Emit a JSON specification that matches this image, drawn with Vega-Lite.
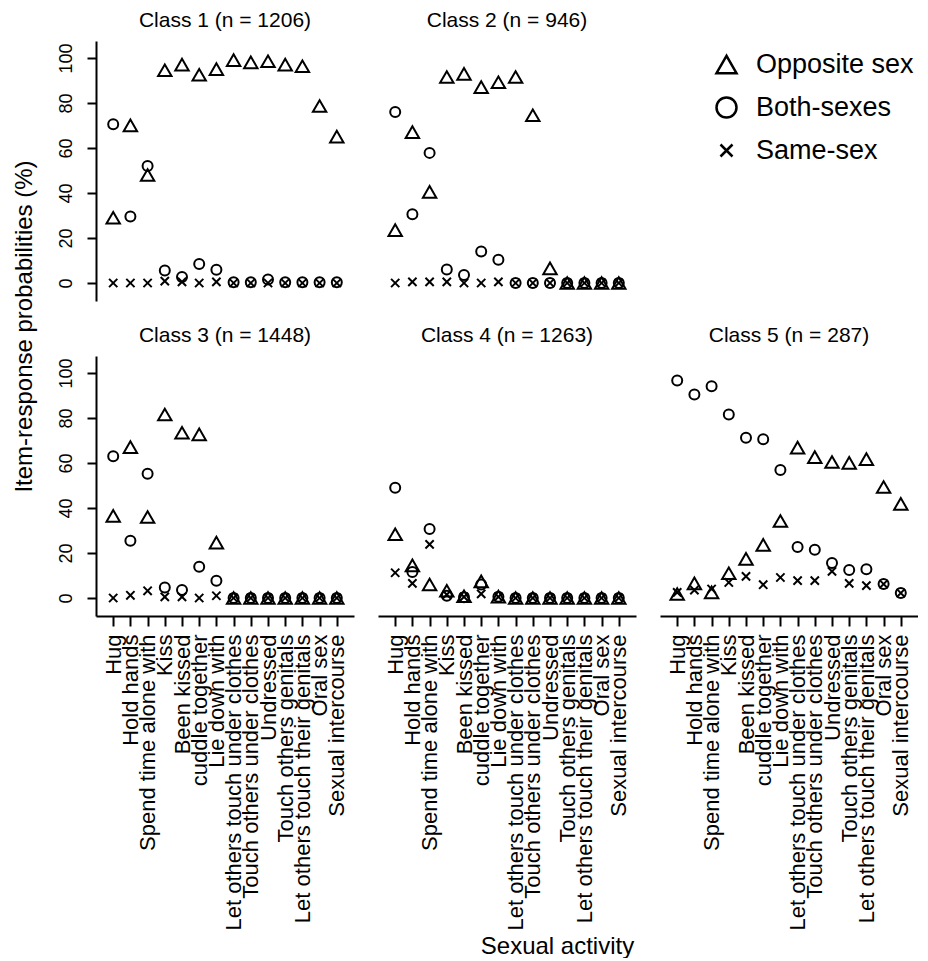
{
"$schema": "https://vega.github.io/schema/vega-lite/v6.json",
"padding": {"left": 12, "top": 10, "right": 0, "bottom": 0},
"autosize": {"type": "pad"},
"bounds": "flush",
"columns": 3,
"spacing": {"row": 55, "column": 24},
"data": {"values": [
{"c":1,"i":"Hug","s":"Opposite sex","p":29},{"c":1,"i":"Hold hands","s":"Opposite sex","p":70},{"c":1,"i":"Spend time alone with","s":"Opposite sex","p":48},{"c":1,"i":"Kiss","s":"Opposite sex","p":94.5},{"c":1,"i":"Been kissed","s":"Opposite sex","p":97},{"c":1,"i":"cuddle together","s":"Opposite sex","p":92.5},{"c":1,"i":"Lie down with","s":"Opposite sex","p":95},{"c":1,"i":"Let others touch under clothes","s":"Opposite sex","p":99},{"c":1,"i":"Touch others under clothes","s":"Opposite sex","p":98},{"c":1,"i":"Undressed","s":"Opposite sex","p":98.5},{"c":1,"i":"Touch others genitals","s":"Opposite sex","p":97},{"c":1,"i":"Let others touch their genitals","s":"Opposite sex","p":96.3},{"c":1,"i":"Oral sex","s":"Opposite sex","p":78.6},{"c":1,"i":"Sexual intercourse","s":"Opposite sex","p":65},
{"c":1,"i":"Hug","s":"Both-sexes","p":70.5},{"c":1,"i":"Hold hands","s":"Both-sexes","p":29.5},{"c":1,"i":"Spend time alone with","s":"Both-sexes","p":52},{"c":1,"i":"Kiss","s":"Both-sexes","p":5.5},{"c":1,"i":"Been kissed","s":"Both-sexes","p":2.7},{"c":1,"i":"cuddle together","s":"Both-sexes","p":8.4},{"c":1,"i":"Lie down with","s":"Both-sexes","p":5.9},{"c":1,"i":"Let others touch under clothes","s":"Both-sexes","p":0.3},{"c":1,"i":"Touch others under clothes","s":"Both-sexes","p":0.3},{"c":1,"i":"Undressed","s":"Both-sexes","p":1.5},{"c":1,"i":"Touch others genitals","s":"Both-sexes","p":0.3},{"c":1,"i":"Let others touch their genitals","s":"Both-sexes","p":0.3},{"c":1,"i":"Oral sex","s":"Both-sexes","p":0.3},{"c":1,"i":"Sexual intercourse","s":"Both-sexes","p":0.3},
{"c":1,"i":"Hug","s":"Same-sex","p":0},{"c":1,"i":"Hold hands","s":"Same-sex","p":0},{"c":1,"i":"Spend time alone with","s":"Same-sex","p":0},{"c":1,"i":"Kiss","s":"Same-sex","p":0.8},{"c":1,"i":"Been kissed","s":"Same-sex","p":0.5},{"c":1,"i":"cuddle together","s":"Same-sex","p":0},{"c":1,"i":"Lie down with","s":"Same-sex","p":0.5},{"c":1,"i":"Let others touch under clothes","s":"Same-sex","p":0},{"c":1,"i":"Touch others under clothes","s":"Same-sex","p":0},{"c":1,"i":"Undressed","s":"Same-sex","p":0},{"c":1,"i":"Touch others genitals","s":"Same-sex","p":0},{"c":1,"i":"Let others touch their genitals","s":"Same-sex","p":0},{"c":1,"i":"Oral sex","s":"Same-sex","p":0},{"c":1,"i":"Sexual intercourse","s":"Same-sex","p":0},
{"c":2,"i":"Hug","s":"Opposite sex","p":23.5},{"c":2,"i":"Hold hands","s":"Opposite sex","p":67},{"c":2,"i":"Spend time alone with","s":"Opposite sex","p":40.5},{"c":2,"i":"Kiss","s":"Opposite sex","p":91.5},{"c":2,"i":"Been kissed","s":"Opposite sex","p":92.9},{"c":2,"i":"cuddle together","s":"Opposite sex","p":87},{"c":2,"i":"Lie down with","s":"Opposite sex","p":89.2},{"c":2,"i":"Let others touch under clothes","s":"Opposite sex","p":91.5},{"c":2,"i":"Touch others under clothes","s":"Opposite sex","p":74.5},{"c":2,"i":"Undressed","s":"Opposite sex","p":6.5},{"c":2,"i":"Touch others genitals","s":"Opposite sex","p":0},{"c":2,"i":"Let others touch their genitals","s":"Opposite sex","p":0},{"c":2,"i":"Oral sex","s":"Opposite sex","p":0},{"c":2,"i":"Sexual intercourse","s":"Opposite sex","p":0},
{"c":2,"i":"Hug","s":"Both-sexes","p":76},{"c":2,"i":"Hold hands","s":"Both-sexes","p":30.5},{"c":2,"i":"Spend time alone with","s":"Both-sexes","p":57.8},{"c":2,"i":"Kiss","s":"Both-sexes","p":6},{"c":2,"i":"Been kissed","s":"Both-sexes","p":3.5},{"c":2,"i":"cuddle together","s":"Both-sexes","p":14},{"c":2,"i":"Lie down with","s":"Both-sexes","p":10.3},{"c":2,"i":"Let others touch under clothes","s":"Both-sexes","p":0},{"c":2,"i":"Touch others under clothes","s":"Both-sexes","p":0},{"c":2,"i":"Undressed","s":"Both-sexes","p":0},{"c":2,"i":"Touch others genitals","s":"Both-sexes","p":0},{"c":2,"i":"Let others touch their genitals","s":"Both-sexes","p":0},{"c":2,"i":"Oral sex","s":"Both-sexes","p":0},{"c":2,"i":"Sexual intercourse","s":"Both-sexes","p":0},
{"c":2,"i":"Hug","s":"Same-sex","p":0},{"c":2,"i":"Hold hands","s":"Same-sex","p":0.5},{"c":2,"i":"Spend time alone with","s":"Same-sex","p":0.5},{"c":2,"i":"Kiss","s":"Same-sex","p":0.5},{"c":2,"i":"Been kissed","s":"Same-sex","p":0},{"c":2,"i":"cuddle together","s":"Same-sex","p":0},{"c":2,"i":"Lie down with","s":"Same-sex","p":0.5},{"c":2,"i":"Let others touch under clothes","s":"Same-sex","p":0},{"c":2,"i":"Touch others under clothes","s":"Same-sex","p":0},{"c":2,"i":"Undressed","s":"Same-sex","p":0},{"c":2,"i":"Touch others genitals","s":"Same-sex","p":0},{"c":2,"i":"Let others touch their genitals","s":"Same-sex","p":0},{"c":2,"i":"Oral sex","s":"Same-sex","p":0},{"c":2,"i":"Sexual intercourse","s":"Same-sex","p":0},
{"c":3,"i":"Hug","s":"Opposite sex","p":36.5},{"c":3,"i":"Hold hands","s":"Opposite sex","p":67},{"c":3,"i":"Spend time alone with","s":"Opposite sex","p":36},{"c":3,"i":"Kiss","s":"Opposite sex","p":81.5},{"c":3,"i":"Been kissed","s":"Opposite sex","p":73.4},{"c":3,"i":"cuddle together","s":"Opposite sex","p":72.7},{"c":3,"i":"Lie down with","s":"Opposite sex","p":24.6},{"c":3,"i":"Let others touch under clothes","s":"Opposite sex","p":0},{"c":3,"i":"Touch others under clothes","s":"Opposite sex","p":0},{"c":3,"i":"Undressed","s":"Opposite sex","p":0},{"c":3,"i":"Touch others genitals","s":"Opposite sex","p":0},{"c":3,"i":"Let others touch their genitals","s":"Opposite sex","p":0},{"c":3,"i":"Oral sex","s":"Opposite sex","p":0},{"c":3,"i":"Sexual intercourse","s":"Opposite sex","p":0},
{"c":3,"i":"Hug","s":"Both-sexes","p":63},{"c":3,"i":"Hold hands","s":"Both-sexes","p":25.4},{"c":3,"i":"Spend time alone with","s":"Both-sexes","p":55.2},{"c":3,"i":"Kiss","s":"Both-sexes","p":4.7},{"c":3,"i":"Been kissed","s":"Both-sexes","p":3.5},{"c":3,"i":"cuddle together","s":"Both-sexes","p":13.9},{"c":3,"i":"Lie down with","s":"Both-sexes","p":7.7},{"c":3,"i":"Let others touch under clothes","s":"Both-sexes","p":0},{"c":3,"i":"Touch others under clothes","s":"Both-sexes","p":0},{"c":3,"i":"Undressed","s":"Both-sexes","p":0},{"c":3,"i":"Touch others genitals","s":"Both-sexes","p":0},{"c":3,"i":"Let others touch their genitals","s":"Both-sexes","p":0},{"c":3,"i":"Oral sex","s":"Both-sexes","p":0},{"c":3,"i":"Sexual intercourse","s":"Both-sexes","p":0},
{"c":3,"i":"Hug","s":"Same-sex","p":0},{"c":3,"i":"Hold hands","s":"Same-sex","p":1.2},{"c":3,"i":"Spend time alone with","s":"Same-sex","p":3.2},{"c":3,"i":"Kiss","s":"Same-sex","p":0.5},{"c":3,"i":"Been kissed","s":"Same-sex","p":0.5},{"c":3,"i":"cuddle together","s":"Same-sex","p":0},{"c":3,"i":"Lie down with","s":"Same-sex","p":1},{"c":3,"i":"Let others touch under clothes","s":"Same-sex","p":0},{"c":3,"i":"Touch others under clothes","s":"Same-sex","p":0},{"c":3,"i":"Undressed","s":"Same-sex","p":0},{"c":3,"i":"Touch others genitals","s":"Same-sex","p":0},{"c":3,"i":"Let others touch their genitals","s":"Same-sex","p":0},{"c":3,"i":"Oral sex","s":"Same-sex","p":0},{"c":3,"i":"Sexual intercourse","s":"Same-sex","p":0},
{"c":4,"i":"Hug","s":"Opposite sex","p":28.3},{"c":4,"i":"Hold hands","s":"Opposite sex","p":14.5},{"c":4,"i":"Spend time alone with","s":"Opposite sex","p":6},{"c":4,"i":"Kiss","s":"Opposite sex","p":3.2},{"c":4,"i":"Been kissed","s":"Opposite sex","p":0.8},{"c":4,"i":"cuddle together","s":"Opposite sex","p":7.4},{"c":4,"i":"Lie down with","s":"Opposite sex","p":0.6},{"c":4,"i":"Let others touch under clothes","s":"Opposite sex","p":0},{"c":4,"i":"Touch others under clothes","s":"Opposite sex","p":0},{"c":4,"i":"Undressed","s":"Opposite sex","p":0},{"c":4,"i":"Touch others genitals","s":"Opposite sex","p":0},{"c":4,"i":"Let others touch their genitals","s":"Opposite sex","p":0},{"c":4,"i":"Oral sex","s":"Opposite sex","p":0},{"c":4,"i":"Sexual intercourse","s":"Opposite sex","p":0},
{"c":4,"i":"Hug","s":"Both-sexes","p":49},{"c":4,"i":"Hold hands","s":"Both-sexes","p":11.5},{"c":4,"i":"Spend time alone with","s":"Both-sexes","p":30.6},{"c":4,"i":"Kiss","s":"Both-sexes","p":1},{"c":4,"i":"Been kissed","s":"Both-sexes","p":0.3},{"c":4,"i":"cuddle together","s":"Both-sexes","p":6},{"c":4,"i":"Lie down with","s":"Both-sexes","p":0.5},{"c":4,"i":"Let others touch under clothes","s":"Both-sexes","p":0},{"c":4,"i":"Touch others under clothes","s":"Both-sexes","p":0},{"c":4,"i":"Undressed","s":"Both-sexes","p":0},{"c":4,"i":"Touch others genitals","s":"Both-sexes","p":0},{"c":4,"i":"Let others touch their genitals","s":"Both-sexes","p":0},{"c":4,"i":"Oral sex","s":"Both-sexes","p":0},{"c":4,"i":"Sexual intercourse","s":"Both-sexes","p":0},
{"c":4,"i":"Hug","s":"Same-sex","p":11.2},{"c":4,"i":"Hold hands","s":"Same-sex","p":6.5},{"c":4,"i":"Spend time alone with","s":"Same-sex","p":23.8},{"c":4,"i":"Kiss","s":"Same-sex","p":1.5},{"c":4,"i":"Been kissed","s":"Same-sex","p":0.5},{"c":4,"i":"cuddle together","s":"Same-sex","p":1.8},{"c":4,"i":"Lie down with","s":"Same-sex","p":0.5},{"c":4,"i":"Let others touch under clothes","s":"Same-sex","p":0},{"c":4,"i":"Touch others under clothes","s":"Same-sex","p":0},{"c":4,"i":"Undressed","s":"Same-sex","p":0},{"c":4,"i":"Touch others genitals","s":"Same-sex","p":0},{"c":4,"i":"Let others touch their genitals","s":"Same-sex","p":0},{"c":4,"i":"Oral sex","s":"Same-sex","p":0},{"c":4,"i":"Sexual intercourse","s":"Same-sex","p":0},
{"c":5,"i":"Hug","s":"Opposite sex","p":1.8},{"c":5,"i":"Hold hands","s":"Opposite sex","p":6.5},{"c":5,"i":"Spend time alone with","s":"Opposite sex","p":2.5},{"c":5,"i":"Kiss","s":"Opposite sex","p":11},{"c":5,"i":"Been kissed","s":"Opposite sex","p":17.4},{"c":5,"i":"cuddle together","s":"Opposite sex","p":23.6},{"c":5,"i":"Lie down with","s":"Opposite sex","p":34.2},{"c":5,"i":"Let others touch under clothes","s":"Opposite sex","p":66.8},{"c":5,"i":"Touch others under clothes","s":"Opposite sex","p":62.6},{"c":5,"i":"Undressed","s":"Opposite sex","p":60.4},{"c":5,"i":"Touch others genitals","s":"Opposite sex","p":60},{"c":5,"i":"Let others touch their genitals","s":"Opposite sex","p":61.7},{"c":5,"i":"Oral sex","s":"Opposite sex","p":49.3},{"c":5,"i":"Sexual intercourse","s":"Opposite sex","p":41.8},
{"c":5,"i":"Hug","s":"Both-sexes","p":96.6},{"c":5,"i":"Hold hands","s":"Both-sexes","p":90.4},{"c":5,"i":"Spend time alone with","s":"Both-sexes","p":94.1},{"c":5,"i":"Kiss","s":"Both-sexes","p":81.5},{"c":5,"i":"Been kissed","s":"Both-sexes","p":71.2},{"c":5,"i":"cuddle together","s":"Both-sexes","p":70.5},{"c":5,"i":"Lie down with","s":"Both-sexes","p":56.9},{"c":5,"i":"Let others touch under clothes","s":"Both-sexes","p":22.7},{"c":5,"i":"Touch others under clothes","s":"Both-sexes","p":21.4},{"c":5,"i":"Undressed","s":"Both-sexes","p":15.5},{"c":5,"i":"Touch others genitals","s":"Both-sexes","p":12.4},{"c":5,"i":"Let others touch their genitals","s":"Both-sexes","p":12.8},{"c":5,"i":"Oral sex","s":"Both-sexes","p":6.2},{"c":5,"i":"Sexual intercourse","s":"Both-sexes","p":2.2},
{"c":5,"i":"Hug","s":"Same-sex","p":2.5},{"c":5,"i":"Hold hands","s":"Same-sex","p":3.5},{"c":5,"i":"Spend time alone with","s":"Same-sex","p":4},{"c":5,"i":"Kiss","s":"Same-sex","p":6.9},{"c":5,"i":"Been kissed","s":"Same-sex","p":9.6},{"c":5,"i":"cuddle together","s":"Same-sex","p":5.9},{"c":5,"i":"Lie down with","s":"Same-sex","p":9.1},{"c":5,"i":"Let others touch under clothes","s":"Same-sex","p":7.7},{"c":5,"i":"Touch others under clothes","s":"Same-sex","p":7.7},{"c":5,"i":"Undressed","s":"Same-sex","p":11.8},{"c":5,"i":"Touch others genitals","s":"Same-sex","p":6.5},{"c":5,"i":"Let others touch their genitals","s":"Same-sex","p":5.5},{"c":5,"i":"Oral sex","s":"Same-sex","p":6.2},{"c":5,"i":"Sexual intercourse","s":"Same-sex","p":2.2}
]},
"concat": [
{"width": 258, "height": 260, "title": "Class 1 (n = 1206)", "transform": [{"filter": "datum.c == 1"}],
 "mark": {"type": "point", "filled": false, "strokeWidth": 2, "opacity": 1, "color": "black"},
 "encoding": {
  "x": {"field": "i", "type": "nominal", "scale": {"type": "point", "padding": 1, "domain": ["Hug","Hold hands","Spend time alone with","Kiss","Been kissed","cuddle together","Lie down with","Let others touch under clothes","Touch others under clothes","Undressed","Touch others genitals","Let others touch their genitals","Oral sex","Sexual intercourse"]}, "axis": null},
  "y": {"field": "p", "type": "quantitative", "scale": {"domain": [-8, 107.5], "nice": false, "zero": false},
        "axis": {"values": [0,20,40,60,80,100], "title": "Item-response probabilities (%)", "titleX": -65, "titleY": 285, "titleAngle": 270, "titleAlign": "center", "titleBaseline": "alphabetic", "titleFontSize": 24, "labelAngle": 270, "labelAlign": "center", "labelBaseline": "alphabetic", "labelPadding": 16, "labelFontSize": 18, "tickSize": 9}},
  "shape": {"field": "s", "type": "nominal", "title": null, "scale": {"domain": ["Opposite sex","Both-sexes","Same-sex"], "range": ["triangle-up","circle","M-0.6,-0.6L0.6,0.6M-0.6,0.6L0.6,-0.6"]}},
  "size": {"condition": [{"test": "datum.s == 'Opposite sex'", "value": 180}, {"test": "datum.s == 'Same-sex'", "value": 190}], "value": 100}
 }},
{"width": 258, "height": 260, "title": "Class 2 (n = 946)", "transform": [{"filter": "datum.c == 2"}],
 "mark": {"type": "point", "filled": false, "strokeWidth": 2, "opacity": 1, "color": "black"},
 "encoding": {
  "x": {"field": "i", "type": "nominal", "scale": {"type": "point", "padding": 1, "domain": ["Hug","Hold hands","Spend time alone with","Kiss","Been kissed","cuddle together","Lie down with","Let others touch under clothes","Touch others under clothes","Undressed","Touch others genitals","Let others touch their genitals","Oral sex","Sexual intercourse"]}, "axis": null},
  "y": {"field": "p", "type": "quantitative", "scale": {"domain": [-8, 107.5], "nice": false, "zero": false}, "axis": null},
  "shape": {"field": "s", "type": "nominal", "title": null, "scale": {"domain": ["Opposite sex","Both-sexes","Same-sex"], "range": ["triangle-up","circle","M-0.6,-0.6L0.6,0.6M-0.6,0.6L0.6,-0.6"]}},
  "size": {"condition": [{"test": "datum.s == 'Opposite sex'", "value": 180}, {"test": "datum.s == 'Same-sex'", "value": 190}], "value": 100}
 }},
{"width": 258, "height": 260, "transform": [{"filter": "datum.c == 0"}],
 "mark": {"type": "point", "filled": false, "strokeWidth": 2, "opacity": 1, "color": "black"},
 "encoding": {
  "x": {"field": "i", "type": "nominal", "scale": {"type": "point", "padding": 1, "domain": ["Hug","Hold hands","Spend time alone with","Kiss","Been kissed","cuddle together","Lie down with","Let others touch under clothes","Touch others under clothes","Undressed","Touch others genitals","Let others touch their genitals","Oral sex","Sexual intercourse"]}, "axis": null},
  "y": {"field": "p", "type": "quantitative", "scale": {"domain": [-8, 107.5], "nice": false, "zero": false}, "axis": null},
  "shape": {"field": "s", "type": "nominal", "title": null, "scale": {"domain": ["Opposite sex","Both-sexes","Same-sex"], "range": ["triangle-up","circle","M-0.6,-0.6L0.6,0.6M-0.6,0.6L0.6,-0.6"]}}
 }},
{"width": 258, "height": 260, "title": "Class 3 (n = 1448)", "transform": [{"filter": "datum.c == 3"}],
 "mark": {"type": "point", "filled": false, "strokeWidth": 2, "opacity": 1, "color": "black"},
 "encoding": {
  "x": {"field": "i", "type": "nominal", "scale": {"type": "point", "padding": 1, "domain": ["Hug","Hold hands","Spend time alone with","Kiss","Been kissed","cuddle together","Lie down with","Let others touch under clothes","Touch others under clothes","Undressed","Touch others genitals","Let others touch their genitals","Oral sex","Sexual intercourse"]},
        "axis": {"title": null, "labelAngle": 270, "labelAlign": "right", "labelBaseline": "middle", "labelFontSize": 22, "labelPadding": 8, "labelLimit": 400, "labelOverlap": false, "tickSize": 10}},
  "y": {"field": "p", "type": "quantitative", "scale": {"domain": [-8, 107.5], "nice": false, "zero": false},
        "axis": {"values": [0,20,40,60,80,100], "title": null, "labelAngle": 270, "labelAlign": "center", "labelBaseline": "alphabetic", "labelPadding": 16, "labelFontSize": 18, "tickSize": 9}},
  "shape": {"field": "s", "type": "nominal", "title": null, "scale": {"domain": ["Opposite sex","Both-sexes","Same-sex"], "range": ["triangle-up","circle","M-0.6,-0.6L0.6,0.6M-0.6,0.6L0.6,-0.6"]}},
  "size": {"condition": [{"test": "datum.s == 'Opposite sex'", "value": 180}, {"test": "datum.s == 'Same-sex'", "value": 190}], "value": 100}
 }},
{"width": 258, "height": 260, "title": "Class 4 (n = 1263)", "transform": [{"filter": "datum.c == 4"}],
 "mark": {"type": "point", "filled": false, "strokeWidth": 2, "opacity": 1, "color": "black"},
 "encoding": {
  "x": {"field": "i", "type": "nominal", "scale": {"type": "point", "padding": 1, "domain": ["Hug","Hold hands","Spend time alone with","Kiss","Been kissed","cuddle together","Lie down with","Let others touch under clothes","Touch others under clothes","Undressed","Touch others genitals","Let others touch their genitals","Oral sex","Sexual intercourse"]},
        "axis": {"title": "Sexual activity", "titleX": 179, "titleY": 337, "titleAlign": "center", "titleBaseline": "alphabetic", "titleFontSize": 24, "labelAngle": 270, "labelAlign": "right", "labelBaseline": "middle", "labelFontSize": 22, "labelPadding": 8, "labelLimit": 400, "labelOverlap": false, "tickSize": 10}},
  "y": {"field": "p", "type": "quantitative", "scale": {"domain": [-8, 107.5], "nice": false, "zero": false}, "axis": null},
  "shape": {"field": "s", "type": "nominal", "title": null, "scale": {"domain": ["Opposite sex","Both-sexes","Same-sex"], "range": ["triangle-up","circle","M-0.6,-0.6L0.6,0.6M-0.6,0.6L0.6,-0.6"]}},
  "size": {"condition": [{"test": "datum.s == 'Opposite sex'", "value": 180}, {"test": "datum.s == 'Same-sex'", "value": 190}], "value": 100}
 }},
{"width": 258, "height": 260, "title": "Class 5 (n = 287)", "transform": [{"filter": "datum.c == 5"}],
 "mark": {"type": "point", "filled": false, "strokeWidth": 2, "opacity": 1, "color": "black"},
 "encoding": {
  "x": {"field": "i", "type": "nominal", "scale": {"type": "point", "padding": 1, "domain": ["Hug","Hold hands","Spend time alone with","Kiss","Been kissed","cuddle together","Lie down with","Let others touch under clothes","Touch others under clothes","Undressed","Touch others genitals","Let others touch their genitals","Oral sex","Sexual intercourse"]},
        "axis": {"title": null, "labelAngle": 270, "labelAlign": "right", "labelBaseline": "middle", "labelFontSize": 22, "labelPadding": 8, "labelLimit": 400, "labelOverlap": false, "tickSize": 10}},
  "y": {"field": "p", "type": "quantitative", "scale": {"domain": [-8, 107.5], "nice": false, "zero": false}, "axis": null},
  "shape": {"field": "s", "type": "nominal", "title": null, "scale": {"domain": ["Opposite sex","Both-sexes","Same-sex"], "range": ["triangle-up","circle","M-0.6,-0.6L0.6,0.6M-0.6,0.6L0.6,-0.6"]}},
  "size": {"condition": [{"test": "datum.s == 'Opposite sex'", "value": 180}, {"test": "datum.s == 'Same-sex'", "value": 190}], "value": 100}
 }}
],
"config": {
 "font": "Liberation Sans",
 "view": {"stroke": null},
 "title": {"fontSize": 21, "fontWeight": "normal", "color": "black", "offset": 10},
 "axis": {"domainColor": "black", "domainWidth": 2, "tickColor": "black", "tickWidth": 2, "labelColor": "black", "titleColor": "black", "titleFontWeight": "normal", "grid": false},
 "legend": {"orient": "none", "legendX": 617, "legendY": 10, "labelFontSize": 27, "labelColor": "black", "symbolSize": 400, "symbolStrokeWidth": 2.5, "symbolStrokeColor": "black", "symbolFillColor": "transparent", "rowPadding": 13, "labelOffset": 16}
}
}
